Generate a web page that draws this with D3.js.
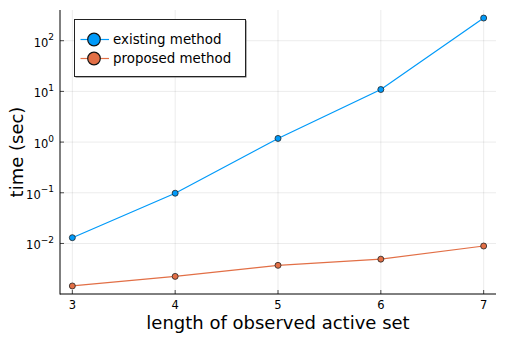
<!DOCTYPE html>
<html lang="en">
<head>
    <meta charset="UTF-8">
    <title>time vs length of observed active set</title>
    <script src="https://d3js.org/d3.v7.min.js"></script>
    <style>
        body { margin: 0; background: #fff; }
        text { font-family: "DejaVu Sans", sans-serif; fill: #000; }
    </style>
</head>
<body>
    <svg id="chart" width="506" height="338"></svg>

    <script>
        // data
        const lengths = [3, 4, 5, 6, 7];
        const existingTimes = [0.013, 0.098, 1.18, 10.9, 280];
        const proposedTimes = [0.00145, 0.00224, 0.0037, 0.0049, 0.0089];
        const seriesNames = ["existing method", "proposed method"];
        const seriesColors = ["#009af9", "#e26f46"];
        const xTicks = [3, 4, 5, 6, 7];
        const yTickExps = [-2, -1, 0, 1, 2];

        const width = 506, height = 338;
        const plot = {left: 60, right: 496, top: 10, bottom: 294};

        const svg = d3.select("#chart");

        // axis limits widened by 3% like Plots.jl does
        const xExt = d3.extent(lengths);
        const xPad = 0.03 * (xExt[1] - xExt[0]);
        const x = d3.scaleLinear()
            .domain([xExt[0] - xPad, xExt[1] + xPad])
            .range([plot.left, plot.right]);

        const allTimes = existingTimes.concat(proposedTimes);
        const lo = Math.log10(d3.min(allTimes)), hi = Math.log10(d3.max(allTimes));
        const yPad = 0.03 * (hi - lo);
        const y = d3.scaleLog()
            .domain([Math.pow(10, lo - yPad), Math.pow(10, hi + yPad)])
            .range([plot.bottom, plot.top]);

        // grid
        svg.append("g").selectAll("line").data(xTicks).join("line")
            .attr("x1", d => x(d)).attr("x2", d => x(d))
            .attr("y1", plot.top).attr("y2", plot.bottom)
            .attr("stroke", "#000").attr("stroke-opacity", 0.08);
        svg.append("g").selectAll("line").data(yTickExps).join("line")
            .attr("x1", plot.left).attr("x2", plot.right)
            .attr("y1", d => y(Math.pow(10, d))).attr("y2", d => y(Math.pow(10, d)))
            .attr("stroke", "#000").attr("stroke-opacity", 0.08);

        // spines
        svg.append("line")
            .attr("x1", plot.left).attr("x2", plot.left)
            .attr("y1", plot.top).attr("y2", plot.bottom + 0.5)
            .attr("stroke", "#000").attr("stroke-width", 1);
        svg.append("line")
            .attr("x1", plot.left).attr("x2", plot.right)
            .attr("y1", plot.bottom).attr("y2", plot.bottom)
            .attr("stroke", "#000").attr("stroke-width", 1);

        // inward ticks
        svg.append("g").selectAll("line").data(xTicks).join("line")
            .attr("x1", d => x(d)).attr("x2", d => x(d))
            .attr("y1", plot.bottom).attr("y2", plot.bottom - 4)
            .attr("stroke", "#000").attr("stroke-opacity", 0.7);
        svg.append("g").selectAll("line").data(yTickExps).join("line")
            .attr("x1", plot.left).attr("x2", plot.left + 4)
            .attr("y1", d => y(Math.pow(10, d))).attr("y2", d => y(Math.pow(10, d)))
            .attr("stroke", "#000").attr("stroke-opacity", 0.7);

        // tick labels
        svg.append("g").selectAll("text").data(xTicks).join("text")
            .attr("x", d => x(d))
            .attr("y", plot.bottom + 15)
            .attr("text-anchor", "middle")
            .attr("font-size", 11.5)
            .text(d => d);

        const yLabels = svg.append("g").selectAll("text").data(yTickExps).join("text")
            .attr("x", 54)
            .attr("y", d => y(Math.pow(10, d)) + 6)
            .attr("text-anchor", "end")
            .attr("font-size", 11.5);
        yLabels.append("tspan").text("10");
        yLabels.append("tspan")
            .attr("dy", -6.5)
            .attr("font-size", 9)
            .text(d => d < 0 ? "\u2212" + Math.abs(d) : d);

        // axis titles
        svg.append("text")
            .attr("x", (plot.left + plot.right) / 2)
            .attr("y", 329)
            .attr("text-anchor", "middle")
            .attr("font-size", 18)
            .text("length of observed active set");

        svg.append("text")
            .attr("transform", `translate(23,${(plot.top + plot.bottom) / 2}) rotate(-90)`)
            .attr("text-anchor", "middle")
            .attr("font-size", 18)
            .text("time (sec)");

        // series
        const series = [existingTimes, proposedTimes];
        const line = d3.line()
            .x((d, i) => x(lengths[i]))
            .y(d => y(d));

        series.forEach((vals, k) => {
            svg.append("path")
                .datum(vals)
                .attr("d", line)
                .attr("fill", "none")
                .attr("stroke", seriesColors[k])
                .attr("stroke-width", 1.2);
            svg.append("g").selectAll("circle").data(vals).join("circle")
                .attr("cx", (d, i) => x(lengths[i]))
                .attr("cy", d => y(d))
                .attr("r", 3)
                .attr("fill", seriesColors[k])
                .attr("stroke", "#222")
                .attr("stroke-width", 0.8);
        });

        // legend
        const legend = svg.append("g").attr("transform", "translate(74,19)");
        legend.append("rect")
            .attr("x", 1.5).attr("y", 1.5)
            .attr("width", 171).attr("height", 57)
            .attr("fill", "#666");
        legend.append("rect")
            .attr("x", 0.5).attr("y", 0.5)
            .attr("width", 171).attr("height", 57)
            .attr("fill", "#fff")
            .attr("stroke", "#222")
            .attr("stroke-width", 1);

        seriesNames.forEach((name, k) => {
            const ly = 20.5 + k * 19;
            legend.append("line")
                .attr("x1", 6.5).attr("x2", 35)
                .attr("y1", ly).attr("y2", ly)
                .attr("stroke", seriesColors[k])
                .attr("stroke-width", 1.2);
            legend.append("circle")
                .attr("cx", 20).attr("cy", ly)
                .attr("r", 6.3)
                .attr("fill", seriesColors[k])
                .attr("stroke", "#111")
                .attr("stroke-width", 1.2);
            legend.append("text")
                .attr("x", 39)
                .attr("y", ly + 4.8)
                .attr("font-size", 13.4)
                .text(name);
        });
    </script>
</body>
</html>
